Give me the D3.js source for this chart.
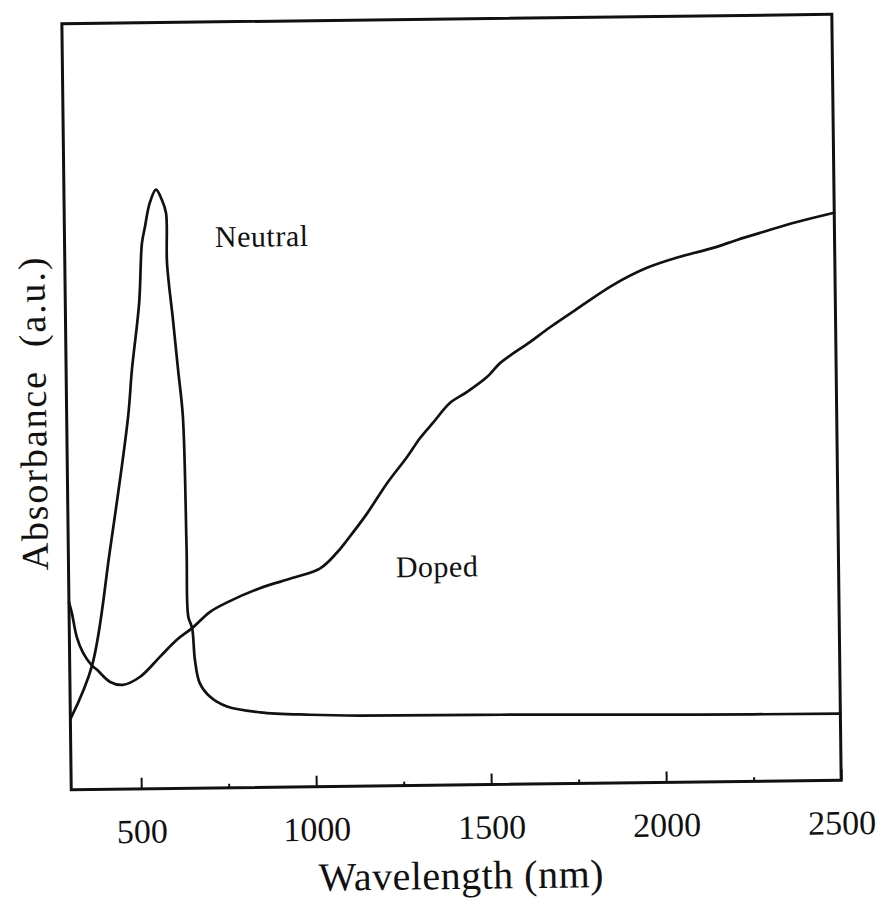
<!DOCTYPE html>
<html>
<head>
<meta charset="utf-8">
<script src="https://cdn.jsdelivr.net/npm/d3@7"></script>
<style>
  html, body { margin: 0; padding: 0; background: #fff; }
  svg { display: block; }
  text { font-family: "Liberation Serif", "Times New Roman", serif; fill: #111; }
</style>
</head>
<body>
<div id="chart"></div>
<script>
// ---- data ----
const majorTicks = [500, 1000, 1500, 2000, 2500];
const minorTicks = [750, 1250, 1750, 2250];

const neutralNm  = [300, 364, 419, 475, 488, 511, 521, 530, 545, 563, 580, 591, 592, 607, 620, 632, 638, 640.5, 651, 658, 671, 700, 748, 842, 985, 1128, 1528, 2099, 2500];
const neutralAbs = [0.092, 0.162, 0.312, 0.484, 0.547, 0.634, 0.712, 0.733, 0.765, 0.782, 0.768, 0.751, 0.686, 0.612, 0.546, 0.485, 0.311, 0.224, 0.209, 0.167, 0.137, 0.119, 0.106, 0.098, 0.094, 0.092, 0.091, 0.088, 0.087];

const dopedNm  = [300, 308, 321, 339, 363, 378, 415, 451, 500, 558, 607, 651, 703, 752, 846, 941, 1019, 1067, 1097, 1155, 1213, 1271, 1309, 1346, 1396, 1445, 1502, 1540, 1626, 1684, 1770, 1865, 1963, 2058, 2153, 2221, 2296, 2393, 2500];
const dopedAbs = [0.245, 0.2305, 0.1995, 0.178, 0.162, 0.156, 0.140, 0.136, 0.146, 0.172, 0.194, 0.209, 0.230, 0.242, 0.260, 0.273, 0.285, 0.305, 0.3215, 0.356, 0.395, 0.429, 0.4535, 0.473, 0.499, 0.513, 0.532, 0.550, 0.577, 0.596, 0.622, 0.650, 0.672, 0.686, 0.697, 0.707, 0.717, 0.7295, 0.741];

const seriesLabels = ["Neutral", "Doped"];
const xTitle = "Wavelength (nm)";
const yTitle = "Absorbance\u00a0\u00a0(a.u.)";

// ---- layout ----
const W = 887, H = 909;
const L = 66.5, R = 836.5, T = 19, B = 785;

const svg = d3.select("#chart").append("svg").attr("width", W).attr("height", H);
const g = svg.append("g").attr("transform", "rotate(-0.7, 452, 400)");

const x = d3.scaleLinear().domain([300, 2500]).range([L, R]);
const y = d3.scaleLinear().domain([0, 1]).range([B, T]);

// major ticks + labels
const ax = g.append("g").attr("transform", `translate(0,${B})`)
  .call(d3.axisBottom(x).tickValues(majorTicks).tickSize(-11).tickPadding(30).tickFormat(d3.format("d")));
ax.select(".domain").remove();
ax.selectAll(".tick line").attr("stroke", "#111").attr("stroke-width", 2);
ax.selectAll(".tick text").attr("font-size", 34).attr("font-family", "Liberation Serif").attr("fill", "#111");

// minor ticks
const axm = g.append("g").attr("transform", `translate(0,${B})`)
  .call(d3.axisBottom(x).tickValues(minorTicks).tickSize(-4).tickFormat(""));
axm.select(".domain").remove();
axm.selectAll(".tick line").attr("stroke", "#111").attr("stroke-width", 2);

// frame
g.append("rect").attr("x", L).attr("y", T).attr("width", R - L).attr("height", B - T)
  .attr("fill", "none").attr("stroke", "#111").attr("stroke-width", 3);

// curves
const line = d3.line().x(d => x(d[0])).y(d => y(d[1])).curve(d3.curveCatmullRom.alpha(0.5));
const neutral = neutralNm.map((v, i) => [v, neutralAbs[i]]);
const doped = dopedNm.map((v, i) => [v, dopedAbs[i]]);
[neutral, doped].forEach(data => {
  g.append("path").datum(data).attr("d", line)
    .attr("fill", "none").attr("stroke", "#111").attr("stroke-width", 2.7)
    .attr("stroke-linejoin", "round").attr("stroke-linecap", "round");
});

// series labels
g.append("text").attr("x", x(730)).attr("y", y(0.706)).attr("font-size", 30)
  .attr("letter-spacing", 0.5).text(seriesLabels[0]);
g.append("text").attr("x", x(1235)).attr("y", y(0.272)).attr("font-size", 30)
  .attr("letter-spacing", 0.5).text(seriesLabels[1]);

// axis titles
g.append("text").attr("x", (L + R) / 2 + 4).attr("y", 889).attr("text-anchor", "middle")
  .attr("font-size", 40).attr("letter-spacing", 0.5).text(xTitle);
g.append("text").attr("transform", `translate(46, 408) rotate(-90)`).attr("text-anchor", "middle")
  .attr("font-size", 38).attr("letter-spacing", 1.9).text(yTitle);
</script>
</body>
</html>
